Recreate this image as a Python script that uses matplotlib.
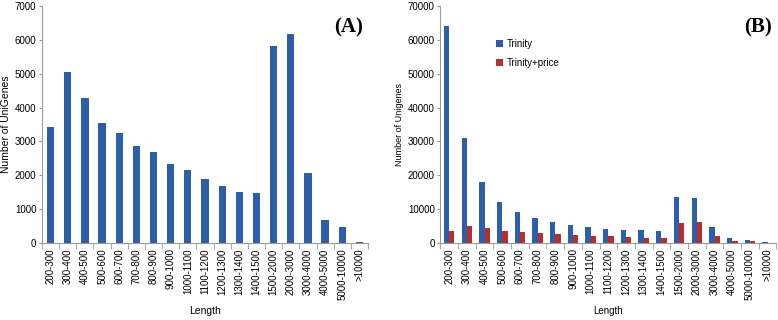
import matplotlib
matplotlib.use('Agg')
import matplotlib.pyplot as plt
import numpy as np

plt.rcParams['font.family'] = ['Liberation Sans', 'DejaVu Sans']

lengths = ['200-300', '300-400', '400-500', '500-600', '600-700', '700-800', '800-900',
           '900-1000', '1000-1100', '1100-1200', '1200-1300', '1300-1400', '1400-1500',
           '1500-2000', '2000-3000', '3000-4000', '4000-5000', '5000-10000', '>10000']
unigenes = [3430, 5060, 4270, 3550, 3250, 2850, 2690, 2320, 2140, 1900, 1680, 1500, 1480,
            5810, 6180, 2080, 690, 470, 20]
trinity = [64100, 31100, 18000, 12000, 9100, 7300, 6100, 5200, 4600, 4200, 3900, 3700, 3400,
           13500, 13300, 4600, 1500, 900, 150]
trinity_price = [3430, 5060, 4270, 3550, 3250, 2850, 2690, 2320, 2140, 1900, 1680, 1500, 1480,
                 5810, 6180, 2080, 690, 470, 20]

blue = '#2C5FA8'
red = '#B82E2B'
axis_col = '#9A9A9A'


def style_axis(ax, ymax, ystep, ylabel):
    n = len(lengths)
    x = np.arange(n)
    ax.set_xlim(-0.5, n - 0.5)
    ax.set_ylim(0, ymax)
    ax.set_yticks(np.arange(0, ymax + 1, ystep))
    ax.set_xticks(x)
    ax.set_xticklabels(lengths, rotation=90, fontsize=7)
    ax.set_xticks(np.arange(-0.5, n, 1), minor=True)
    ax.tick_params(axis='x', which='major', length=0, pad=4)
    ax.tick_params(axis='x', which='minor', length=4, color=axis_col)
    ax.tick_params(axis='y', length=2, pad=2, color=axis_col, labelsize=7)
    for s in ['top', 'right']:
        ax.spines[s].set_visible(False)
    for s in ['left', 'bottom']:
        ax.spines[s].set_color(axis_col)
        ax.spines[s].set_linewidth(0.8)
    ax.set_xlabel('Length', fontsize=7.5)
    ax.set_ylabel(ylabel, fontsize=7.5, labelpad=3)


fig = plt.figure(figsize=(7.78, 3.2), dpi=100)

axA = fig.add_axes([0.054, 0.241, 0.419, 0.74])
x = np.arange(len(lengths))
axA.bar(x, unigenes, width=0.42, color=blue)
style_axis(axA, 7000, 1000, 'Number of UniGenes')
axA.text(0.985, 0.95, '(A)', transform=axA.transAxes, ha='right', va='top',
         fontsize=15, fontweight='bold', family='Liberation Serif')

axB = fig.add_axes([0.566, 0.241, 0.432, 0.74])
w = 0.3
axB.bar(x - w / 2, trinity, width=w, color=blue, label='Trinity')
axB.bar(x + w / 2, trinity_price, width=w, color=red, label='Trinity+price')
style_axis(axB, 70000, 10000, 'Number of Unigenes')
axB.yaxis.label.set_size(6.5)
axB.xaxis.label.set_size(7)
axB.text(0.985, 0.95, '(B)', transform=axB.transAxes, ha='right', va='top',
         fontsize=15, fontweight='bold', family='Liberation Serif')
axB.legend(loc='upper left', bbox_to_anchor=(0.14, 0.9), frameon=False, fontsize=7,
           handlelength=0.7, handleheight=0.7, labelspacing=1.0, handletextpad=0.4)

fig.savefig('out.png', dpi=100)
